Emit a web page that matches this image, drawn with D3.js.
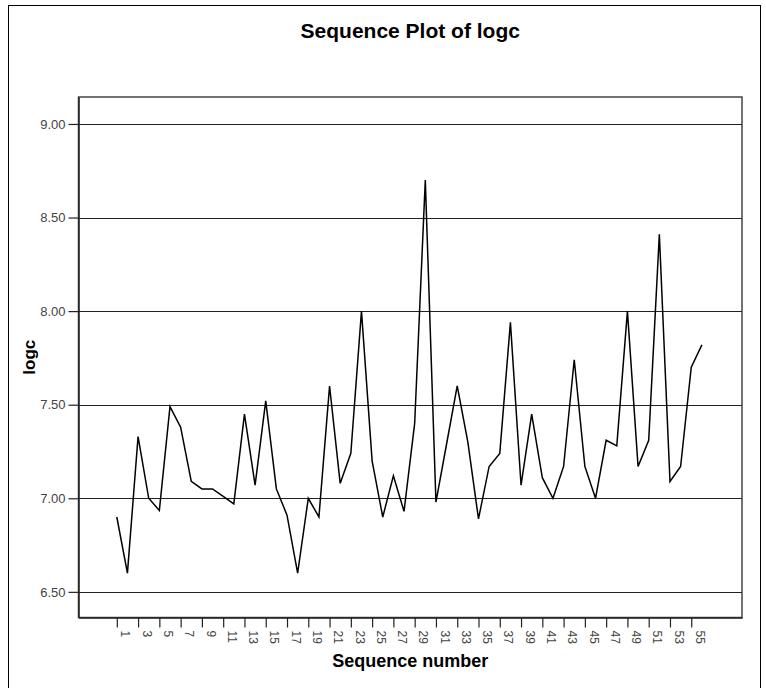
<!DOCTYPE html>
<html><head><meta charset="utf-8">
<script src="https://cdn.jsdelivr.net/npm/d3@7"></script>
<style>body{margin:0;background:#fff;}svg{display:block;font-family:"Liberation Sans",Arial,sans-serif;}</style>
</head><body>
<svg id="chart" width="766" height="688"></svg>
<script>
const seqNumbers = d3.range(1, 57);
const logcValues = [6.90,6.60,7.33,7.00,6.935,7.49,7.38,7.09,7.05,7.05,
  7.01,6.97,7.45,7.07,7.52,7.05,6.91,6.60,7.00,6.90,
  7.60,7.08,7.24,8.00,7.20,6.90,7.12,6.93,7.40,8.70,
  6.98,7.29,7.60,7.30,6.89,7.17,7.24,7.94,7.07,7.45,
  7.11,7.00,7.17,7.74,7.17,7.00,7.31,7.28,8.00,7.17,
  7.31,8.41,7.09,7.17,7.70,7.82];
const yTicks = [6.5, 7.0, 7.5, 8.0, 8.5, 9.0];
const xTickLabels = d3.range(1, 56, 2);
const titleText = "Sequence Plot of logc";
const xTitle = "Sequence number";
const yTitle = "logc";

const svg = d3.select("#chart");
const L = 78.5, R = 742, T = 97, B = 617.5;

// outer frame
svg.append("rect").attr("x", 8.5).attr("y", 5.5).attr("width", 752).attr("height", 700)
  .attr("fill", "none").attr("stroke", "#000").attr("stroke-width", 1);

const x = d3.scaleLinear().domain([-2.6, 59.77]).range([L, R]);
const y = d3.scaleLinear().domain([6.363, 9.144]).range([B, T]);

// plot frame
svg.append("rect").attr("x", L).attr("y", T).attr("width", R - L).attr("height", B - T)
  .attr("fill", "#fff").attr("stroke", "#444").attr("stroke-width", 1.5);

// gridlines
svg.append("g").selectAll("line").data(yTicks).join("line")
  .attr("x1", L).attr("x2", R)
  .attr("y1", d => Math.round(y(d)) + 0.5).attr("y2", d => Math.round(y(d)) + 0.5)
  .attr("stroke", "#222").attr("stroke-width", 1.2);

// y axis
const yAxis = d3.axisLeft(y).tickValues(yTicks).tickFormat(d3.format(".2f"))
  .tickSizeInner(10).tickSizeOuter(0).tickPadding(3);
const gy = svg.append("g").attr("transform", `translate(${L},0)`).call(yAxis);
gy.select(".domain").attr("stroke", "#222").attr("stroke-width", 1.5);
gy.selectAll(".tick line").attr("stroke", "#222").attr("stroke-width", 1.2);
gy.selectAll(".tick text").attr("font-size", 13).attr("fill", "#444")
  .attr("font-family", "'Liberation Sans', Arial, sans-serif");

// x axis
const xAxis = d3.axisBottom(x).tickValues(xTickLabels).tickFormat(d3.format("d"))
  .tickSizeInner(10).tickSizeOuter(0).tickPadding(3);
const gx = svg.append("g").attr("transform", `translate(0,${B})`).call(xAxis);
gx.select(".domain").attr("stroke", "#222").attr("stroke-width", 1.5);
gx.selectAll(".tick line").attr("stroke", "#222").attr("stroke-width", 1.2);
gx.selectAll(".tick text").attr("font-size", 12).attr("fill", "#444")
  .attr("font-family", "'Liberation Sans', Arial, sans-serif")
  .attr("transform", "rotate(90)").attr("text-anchor", "start")
  .attr("x", 13).attr("y", 0).attr("dy", "-0.35em");

// line
const line = d3.line().x((d, i) => x(seqNumbers[i])).y(d => y(d));
svg.append("path").datum(logcValues).attr("d", line)
  .attr("fill", "none").attr("stroke", "#000").attr("stroke-width", 1.5).attr("stroke-linejoin", "miter");

// titles
svg.append("text").attr("x", (L + R) / 2).attr("y", 38).attr("text-anchor", "middle")
  .attr("font-size", 21).attr("font-weight", "bold").text(titleText);
svg.append("text").attr("x", (L + R) / 2).attr("y", 667).attr("text-anchor", "middle")
  .attr("font-size", 18).attr("font-weight", "bold").text(xTitle);
svg.append("text").attr("transform", `translate(35,${(T + B) / 2}) rotate(-90)`).attr("text-anchor", "middle")
  .attr("font-size", 17).attr("font-weight", "bold").text(yTitle);
</script>
</body></html>
